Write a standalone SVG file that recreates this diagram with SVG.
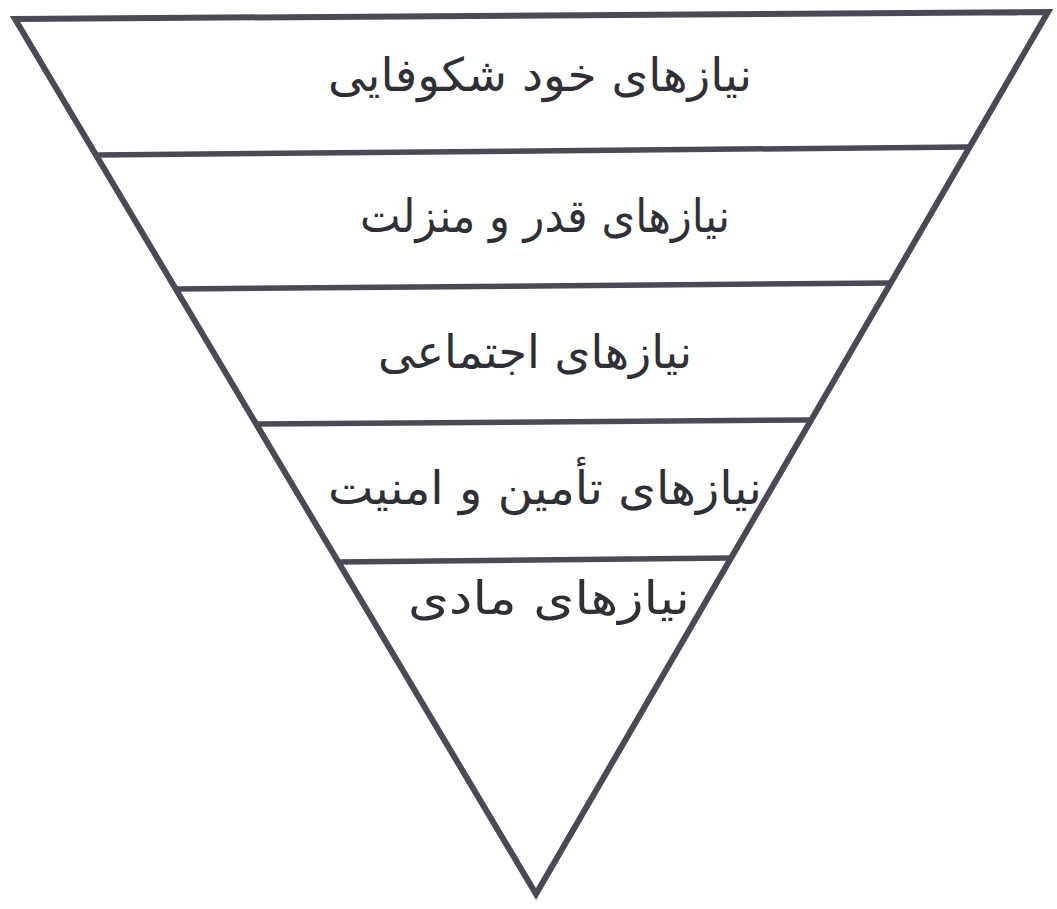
<svg xmlns="http://www.w3.org/2000/svg" width="1057" height="909" viewBox="0 0 1057 909">
<style>
.edge{stroke:#4a4a55;stroke-width:6;fill:none;stroke-linejoin:miter;stroke-linecap:round}
.div{stroke:#4a4a55;stroke-width:5.5;fill:none}
.lbl{font-family:"DejaVu Sans",sans-serif;font-size:46px;fill:#2f2f36;text-anchor:middle;direction:rtl}
</style>
<rect width="1057" height="909" fill="#ffffff"/>
<g id="connectors">
<polygon class="edge" points="15,19 1048,12 536,894"/>
<line class="div" x1="97" y1="155" x2="968" y2="147"/>
<line class="div" x1="175" y1="289" x2="890" y2="283"/>
<line class="div" x1="257" y1="424" x2="810" y2="420"/>
<line class="div" x1="338" y1="562" x2="730" y2="558"/>
</g>
<g id="level1"><text class="lbl" x="540" y="91" textLength="424" lengthAdjust="spacingAndGlyphs">نیازهای خود شکوفایی</text></g>
<g id="level2"><text class="lbl" x="545" y="232" textLength="370" lengthAdjust="spacingAndGlyphs">نیازهای قدر و منزلت</text></g>
<g id="level3"><text class="lbl" x="535" y="368" textLength="314" lengthAdjust="spacingAndGlyphs">نیازهای اجتماعی</text></g>
<g id="level4"><text class="lbl" x="545" y="504" textLength="434" lengthAdjust="spacingAndGlyphs">نیازهای تأمین و امنیت</text></g>
<g id="level5"><text class="lbl" x="549" y="614" textLength="282" lengthAdjust="spacingAndGlyphs">نیازهای مادی</text></g>
</svg>
